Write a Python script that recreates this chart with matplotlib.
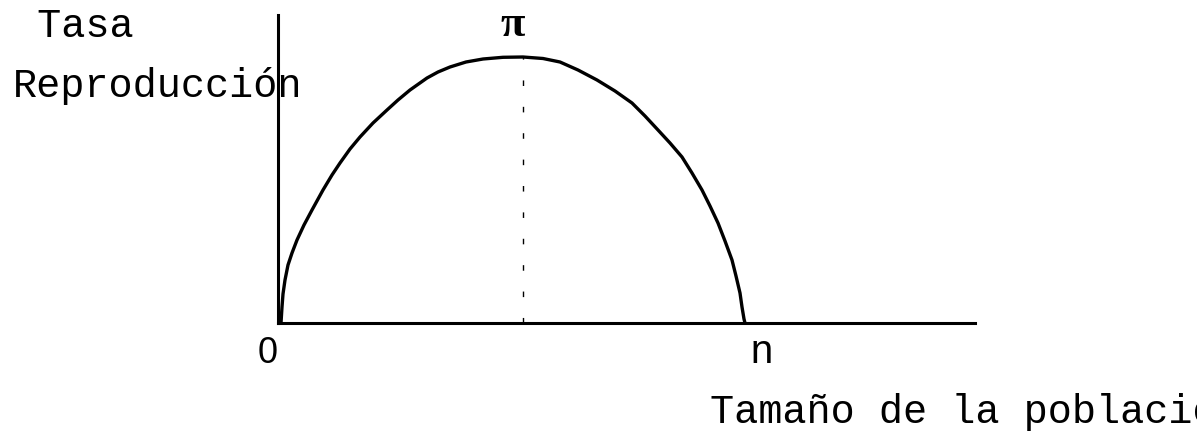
import matplotlib
matplotlib.use("Agg")
import matplotlib.pyplot as plt

# Curve (population size vs reproduction rate, arbitrary units)
pop = [3, 4, 5, 7, 10, 14, 19, 26, 34, 45, 54, 62, 72, 82, 95, 109, 120, 132,
       149, 160, 172, 188, 205, 225, 245, 265, 282, 300, 319, 337, 354, 367,
       380, 392, 404, 414, 424, 432, 440, 447, 454, 458, 462, 464, 466, 467]
rate = [0, 16, 29, 43, 58, 70, 83, 98, 113, 133, 148, 160, 174, 186, 200, 213,
        223, 233, 245, 251, 256, 261, 264, 265.7, 266, 264.5, 261, 253, 243,
        232, 220, 207, 193, 180, 166, 150, 133, 117, 100, 82, 63, 47, 30, 16,
        4, 0]
peak_x = 245
peak_y = 266
x_labels = ["0", "n"]
x_label_pos = [-10, 484]

W, H = 1197, 436
fig = plt.figure(figsize=(W / 100, H / 100), dpi=100)
ax = fig.add_axes([278 / W, (H - 323) / H, 697 / W, 308 / H])
ax.set_xlim(0, 697)
ax.set_ylim(0, 308)
for s in ["top", "right"]:
    ax.spines[s].set_visible(False)
for s in ["left", "bottom"]:
    ax.spines[s].set_linewidth(2.2)
ax.set_xticks([])
ax.set_yticks([])
ax.patch.set_alpha(0)

ax.plot(pop, rate, color="black", lw=2.4, solid_joinstyle="round",
        solid_capstyle="butt", clip_on=False)
ax.plot([peak_x, peak_x], [0, peak_y], color="black", lw=1.0,
        dashes=(4, 15), clip_on=False)

mono = "Liberation Mono"
fs = 29
ax.text(peak_x - 10, 298, "π", family="Liberation Serif", fontweight="bold",
        fontsize=32, ha="center", va="center")
ax.text(x_label_pos[0], -40, x_labels[0], family="Liberation Sans", fontsize=26,
        ha="center", va="baseline")
ax.text(x_label_pos[1], -40, x_labels[1], family=mono, fontsize=fs,
        ha="center", va="baseline")

fig.text(13 / W, 1 - 37 / H, " Tasa", family=mono, fontsize=fs, va="baseline", ha="left")
fig.text(13 / W, 1 - 97 / H, "Reproducción", family=mono, fontsize=fs, va="baseline",
         ha="left", zorder=0)
fig.text(710 / W, 1 - 423 / H, "Tamaño de la población", family=mono, fontsize=fs,
         va="baseline", ha="left")

fig.savefig("out.png", dpi=100)
